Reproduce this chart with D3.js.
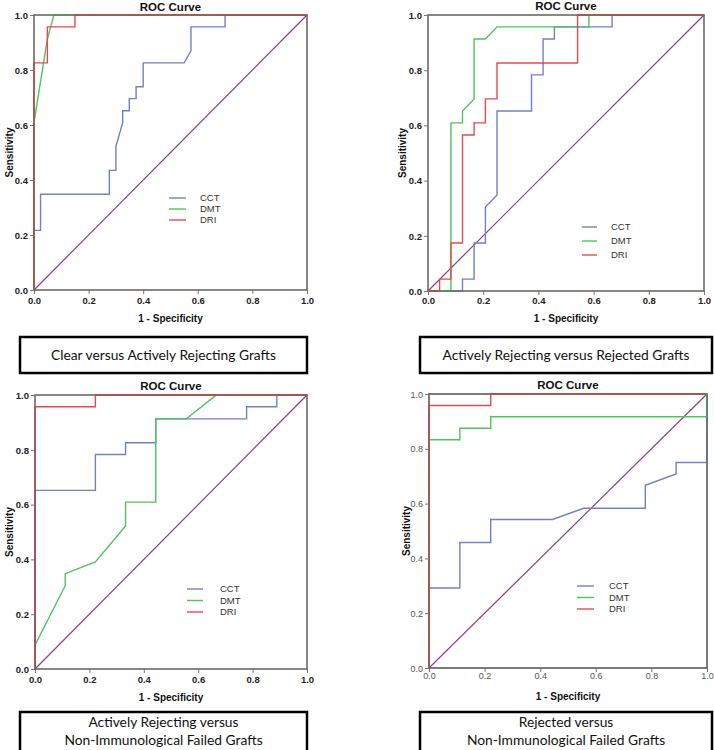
<!DOCTYPE html>
<html><head><meta charset="utf-8">
<script src="https://cdn.jsdelivr.net/npm/d3@7"></script>
<style>
html,body{margin:0;padding:0;background:#fff;}
svg{display:block;}
</style>
</head><body>
<svg id="chart" width="714" height="750"></svg>
<script>
// ---------- data ----------
const seriesNames = ["CCT", "DMT", "DRI"];
const ticks = [0, 0.2, 0.4, 0.6, 0.8, 1.0];
const diagonal = [[0, 0], [1, 1]];
const chartTitle = "ROC Curve";
const xLabel = "1 - Specificity";
const yLabel = "Sensitivity";
const captions = [
  ["Clear versus Actively Rejecting Grafts"],
  ["Actively Rejecting versus Rejected Grafts"],
  ["Actively Rejecting versus", "Non-Immunological Failed Grafts"],
  ["Rejected versus", "Non-Immunological Failed Grafts"]
];

// Panel 1: Clear vs Actively Rejecting
const p1CCT = [[0,0],[0,0.217],[0.024,0.217],[0.024,0.348],[0.276,0.348],[0.276,0.435],[0.30,0.435],[0.30,0.522],[0.325,0.609],[0.325,0.652],[0.349,0.652],[0.349,0.696],[0.374,0.696],[0.374,0.739],[0.40,0.739],[0.40,0.826],[0.55,0.826],[0.575,0.87],[0.575,0.957],[0.70,0.957],[0.70,1],[1,1]];
const p1DMT = [[0,0],[0,0.609],[0.049,0.913],[0.073,1],[1,1]];
const p1DRI = [[0,0],[0,0.826],[0.049,0.826],[0.049,0.957],[0.15,0.957],[0.15,1],[1,1]];

// Panel 2: Actively Rejecting vs Rejected
const p2CCT = [[0,0],[0.125,0],[0.125,0.043],[0.167,0.043],[0.167,0.174],[0.208,0.174],[0.208,0.304],[0.25,0.348],[0.25,0.652],[0.375,0.652],[0.375,0.783],[0.417,0.783],[0.417,0.913],[0.458,0.913],[0.458,0.957],[0.667,0.957],[0.667,1],[1,1]];
const p2DMT = [[0,0],[0.083,0],[0.083,0.609],[0.125,0.609],[0.125,0.652],[0.167,0.696],[0.167,0.913],[0.208,0.913],[0.25,0.957],[0.583,0.957],[0.583,1],[1,1]];
const p2DRI = [[0,0],[0.042,0],[0.042,0.043],[0.083,0.043],[0.083,0.174],[0.125,0.174],[0.125,0.565],[0.167,0.565],[0.167,0.609],[0.208,0.609],[0.208,0.696],[0.25,0.696],[0.25,0.826],[0.542,0.826],[0.542,1],[1,1]];

// Panel 3: Actively Rejecting vs Non-Immunological Failed
const p3CCT = [[0,0],[0,0.652],[0.222,0.652],[0.222,0.783],[0.333,0.783],[0.333,0.826],[0.444,0.826],[0.444,0.913],[0.778,0.913],[0.778,0.957],[0.889,0.957],[0.889,1],[1,1]];
const p3DMT = [[0,0],[0,0.087],[0.111,0.304],[0.111,0.348],[0.222,0.391],[0.333,0.522],[0.333,0.609],[0.444,0.609],[0.444,0.913],[0.556,0.913],[0.667,1],[1,1]];
const p3DRI = [[0,0],[0,0.957],[0.222,0.957],[0.222,1],[1,1]];

// Panel 4: Rejected vs Non-Immunological Failed
const p4CCT = [[0,0],[0,0.292],[0.111,0.292],[0.111,0.458],[0.222,0.458],[0.222,0.542],[0.444,0.542],[0.556,0.583],[0.778,0.583],[0.778,0.667],[0.889,0.708],[0.889,0.75],[1,0.75],[1,1]];
const p4DMT = [[0,0],[0,0.833],[0.111,0.833],[0.111,0.875],[0.222,0.875],[0.222,0.917],[1,0.917],[1,1]];
const p4DRI = [[0,0],[0,0.958],[0.222,0.958],[0.222,1],[1,1]];

// ---------- styles / layout ----------
const colors = {CCT: "#6f82c6", DMT: "#52c25e", DRI: "#e8494f"};
const diagColor = "#8e3f8e";
const chartFont = "'Liberation Sans', Arial, sans-serif";
const capFont = "Lato, 'Open Sans', sans-serif";

const panels = [
  {series: [p1CCT, p1DMT, p1DRI], x0: 34, x1: 307, yT: 15, yB: 290, titleY: 11, xtickY: 304, xlabY: 322, ylabX: 9,
   leg: {x: 169, x2: 186, y: 198, dy: 11, tx: 200}, light: false,
   cap: {x: 20, y: 337, w: 287, h: 36}},
  {series: [p2CCT, p2DMT, p2DRI], x0: 428, x1: 704, yT: 15, yB: 291, titleY: 10, xtickY: 304, xlabY: 322, ylabX: 402,
   leg: {x: 582, x2: 597, y: 227, dy: 14, tx: 611}, light: false,
   cap: {x: 420, y: 337, w: 292, h: 36}},
  {series: [p3CCT, p3DMT, p3DRI], x0: 35, x1: 307, yT: 395, yB: 669, titleY: 390, xtickY: 683, xlabY: 701, ylabX: 9,
   leg: {x: 187, x2: 203, y: 589, dy: 11.5, tx: 220}, light: false,
   cap: {x: 20, y: 712, w: 287, h: 42}},
  {series: [p4CCT, p4DMT, p4DRI], x0: 429, x1: 707, yT: 394, yB: 668, titleY: 389, xtickY: 679, xlabY: 700, ylabX: 406,
   leg: {x: 577, x2: 594, y: 586, dy: 11.5, tx: 609}, light: true,
   cap: {x: 420, y: 712, w: 292, h: 42}}
];

const svg = d3.select("#chart");

panels.forEach((p, i) => {
  const g = svg.append("g");
  const x = d3.scaleLinear().domain([0, 1]).range([p.x0, p.x1]);
  const y = d3.scaleLinear().domain([0, 1]).range([p.yB, p.yT]);
  const line = d3.line().x(d => x(d[0])).y(d => y(d[1]));

  // frame (under curves)
  g.append("rect").attr("x", p.x0).attr("y", p.yT).attr("width", p.x1 - p.x0).attr("height", p.yB - p.yT)
    .attr("fill", "none").attr("stroke", "#8a8a8a").attr("stroke-width", p.light ? 1.8 : 1.5);

  // axes
  const tickFill = p.light ? "#555" : "#222";
  const tickWeight = p.light ? "normal" : "bold";
  const tickSize = p.light ? 9 : 9.5;
  const ax = g.append("g").attr("transform", `translate(0,${p.yB})`)
    .call(d3.axisBottom(x).tickValues(ticks).tickFormat(d3.format(".1f")).tickSize(4).tickPadding(2));
  const ay = g.append("g").attr("transform", `translate(${p.x0},0)`)
    .call(d3.axisLeft(y).tickValues(ticks).tickFormat(d3.format(".1f")).tickSize(4).tickPadding(2));
  [ax, ay].forEach(a => {
    a.select(".domain").remove();
    a.selectAll(".tick line").attr("stroke", "#777");
    a.selectAll(".tick text").attr("font-family", chartFont).attr("font-size", tickSize)
      .attr("font-weight", tickWeight).attr("fill", tickFill);
  });
  ax.selectAll(".tick text").attr("dy", null).attr("y", p.xtickY - p.yB).attr("dominant-baseline", "auto");
  ay.selectAll(".tick text").attr("dy", "0.35em");

  // diagonal reference
  g.append("path").datum(diagonal).attr("d", line).attr("fill", "none")
    .attr("stroke", diagColor).attr("stroke-width", 1.2);

  // curves
  p.series.forEach((s, k) => {
    g.append("path").datum(s).attr("d", line).attr("fill", "none")
      .attr("stroke", colors[seriesNames[k]]).attr("stroke-width", 1.4)
      .attr("stroke-linejoin", "miter");
  });

  // frame overlay tint (mixes with coloured curves on edges)
  g.append("rect").attr("x", p.x0).attr("y", p.yT).attr("width", p.x1 - p.x0).attr("height", p.yB - p.yT)
    .attr("fill", "none").attr("stroke", "rgba(90,70,60,0.45)").attr("stroke-width", 1.5);

  // title
  g.append("text").attr("x", (p.x0 + p.x1) / 2).attr("y", p.titleY).attr("text-anchor", "middle")
    .attr("font-family", chartFont).attr("font-weight", "bold").attr("font-size", 11.5).attr("fill", "#111")
    .text(chartTitle);

  // axis labels
  g.append("text").attr("x", (p.x0 + p.x1) / 2).attr("y", p.xlabY).attr("text-anchor", "middle")
    .attr("font-family", chartFont).attr("font-weight", "bold").attr("font-size", 10).attr("fill", "#111")
    .text(xLabel);
  g.append("text").attr("transform", `translate(${p.ylabX},${(p.yT + p.yB) / 2}) rotate(-90)`)
    .attr("text-anchor", "middle").attr("dy", "0.35em")
    .attr("font-family", chartFont).attr("font-weight", "bold").attr("font-size", 10).attr("fill", "#111")
    .text(yLabel);

  // legend
  seriesNames.forEach((n, k) => {
    const ly = p.leg.y + k * p.leg.dy;
    g.append("line").attr("x1", p.leg.x).attr("x2", p.leg.x2).attr("y1", ly).attr("y2", ly)
      .attr("stroke", colors[n]).attr("stroke-width", 1.4);
    g.append("text").attr("x", p.leg.tx).attr("y", ly).attr("dy", "0.35em")
      .attr("font-family", chartFont).attr("font-size", 9.5).attr("fill", "#333").text(n);
  });

  // caption box
  const c = p.cap;
  g.append("rect").attr("x", c.x).attr("y", c.y).attr("width", c.w).attr("height", c.h)
    .attr("fill", "#fff").attr("stroke", "#000").attr("stroke-width", 2.5);
  const lines = captions[i];
  lines.forEach((t, k) => {
    const ty = lines.length === 1 ? c.y + c.h / 2 : c.y + 10 + k * 18.5;
    g.append("text").attr("x", c.x + c.w / 2).attr("y", ty).attr("dy", "0.35em").attr("text-anchor", "middle")
      .attr("font-family", capFont).attr("font-size", 13.8).attr("fill", "#111").text(t);
  });
});
</script>
</body></html>
